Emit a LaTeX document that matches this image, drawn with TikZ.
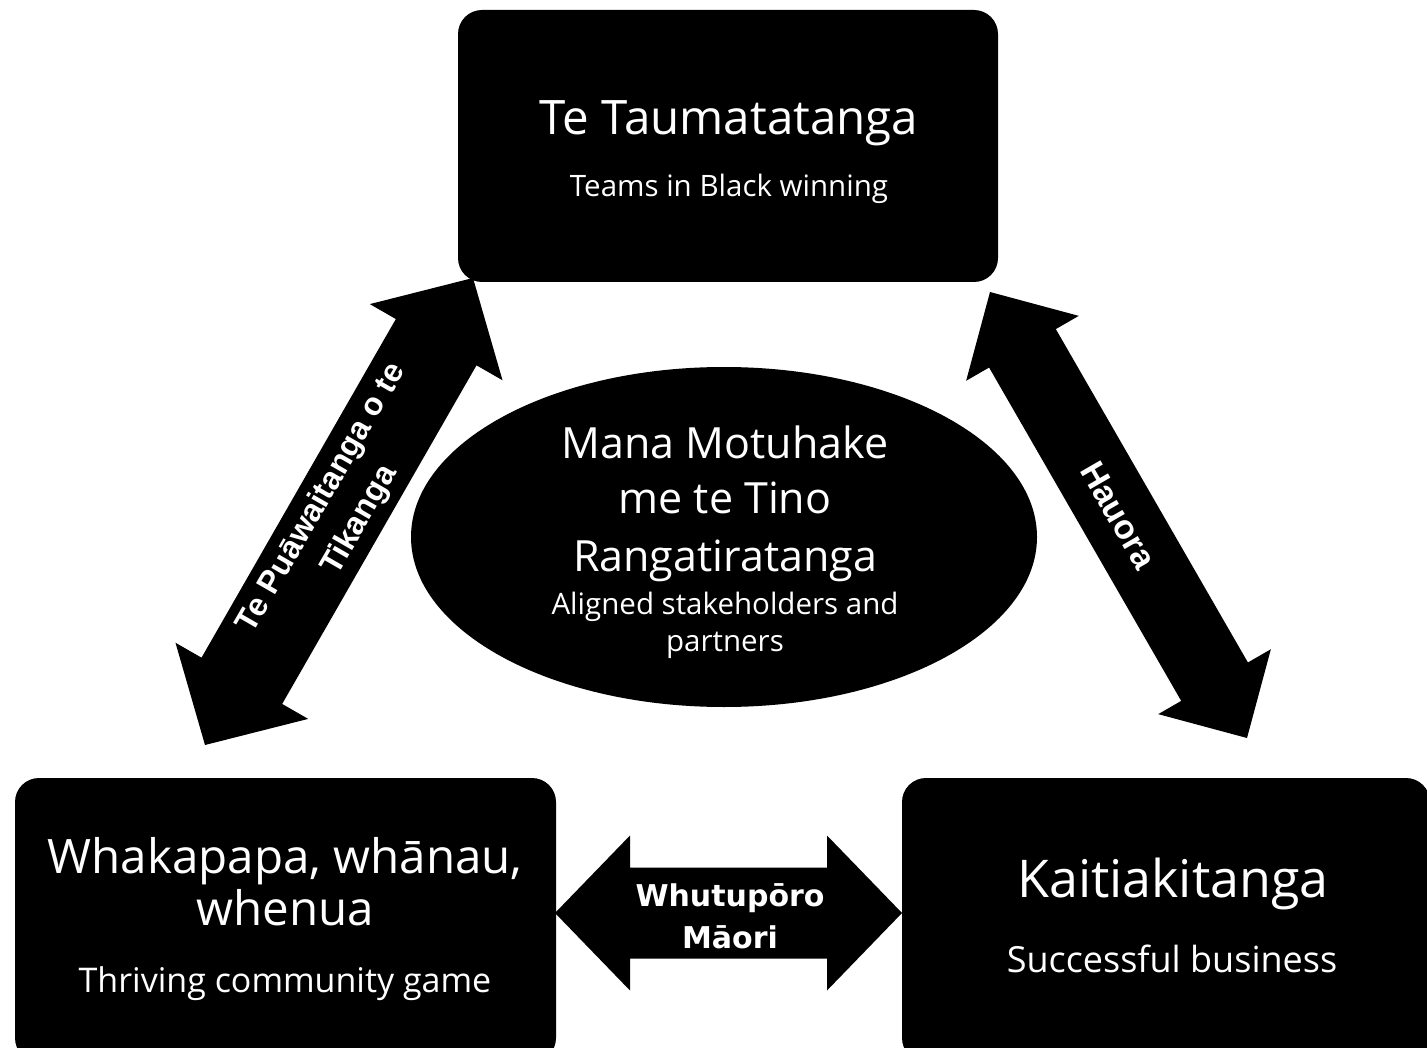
\documentclass[tikz,border=0pt]{standalone}
\usepackage{fontspec}
\setmainfont{Open Sans}
\newfontfamily\armfont{Liberation Sans}
\newfontfamily\midfont{DejaVu Sans}
\usetikzlibrary{positioning, calc, shapes.geometric}

% block arrow with a head at both ends: name, from, to, half shaft, half head, head length
\newcommand{\twowayarrow}[6]{%
  \coordinate (#1-s) at ($(#2)!#6!(#3)$);
  \coordinate (#1-e) at ($(#3)!#6!(#2)$);
  \fill (#2) -- ($(#1-s)!#5!90:(#3)$) -- ($(#1-s)!#4!90:(#3)$)
    -- ($(#1-e)!#4!-90:(#2)$) -- ($(#1-e)!#5!-90:(#2)$) -- (#3)
    -- ($(#1-e)!#5!90:(#2)$) -- ($(#1-e)!#4!90:(#2)$)
    -- ($(#1-s)!#4!-90:(#3)$) -- ($(#1-s)!#5!-90:(#3)$) -- cycle;
}

\begin{document}
\begin{tikzpicture}[x=1pt, y=-1pt]
        \tikzset{block/.style={fill=black, rounded corners=24pt, inner sep=0pt},
                 hub/.style={ellipse, fill=black, inner sep=0pt},
                 words/.style={text=white, anchor=base, inner sep=0pt},
                 armtext/.style={text=white, align=center, inner sep=0pt, font=\armfont\bfseries\fontsize{32}{44}\selectfont}}
        \useasboundingbox (0,0) rectangle (1427,1048);

        \node[block, minimum width=540pt, minimum height=272pt] (taumata) at (728,146) {};
        \node[block, minimum width=541pt, minimum height=284pt] (whakapapa) at (285.5,920) {};
        \node[block, minimum width=528pt, minimum height=284pt] (kaitiaki) at (1166,920) {};
        \node[hub, minimum width=626pt, minimum height=340pt] (mana) at (724,537) {};

        \node[words, font=\fontsize{47.5}{47.5}\selectfont] (taumata-t) at (729,135) {Te Taumatatanga};
        \node[words, font=\fontsize{29.5}{29.5}\selectfont] (taumata-s) at (729,197) {Teams in Black winning};

        \node[words, font=\fontsize{43}{43}\selectfont] (mana-t1) at (725,458) {Mana Motuhake};
        \node[words, font=\fontsize{43}{43}\selectfont] (mana-t2) at (725,513) {me te Tino};
        \node[words, font=\fontsize{43}{43}\selectfont] (mana-t3) at (725,571) {Rangatiratanga};
        \node[words, font=\fontsize{29.5}{29.5}\selectfont] (mana-s1) at (725,614) {Aligned stakeholders and};
        \node[words, font=\fontsize{29.5}{29.5}\selectfont] (mana-s2) at (725,651) {partners};

        \node[words, font=\fontsize{47.5}{47.5}\selectfont] (whakapapa-t1) at (285,873) {Whakapapa, whānau,};
        \node[words, font=\fontsize{47.5}{47.5}\selectfont] (whakapapa-t2) at (285,925) {whenua};
        \node[words, font=\fontsize{34}{34}\selectfont] (whakapapa-s) at (285,992) {Thriving community game};

        \node[words, font=\fontsize{52}{52}\selectfont] (kaitiaki-t) at (1173,897) {Kaitiakitanga};
        \node[words, font=\fontsize{36}{36}\selectfont] (kaitiaki-s) at (1172,972) {Successful business};

        % arrows between the three corners
        \coordinate (pua-a) at (205,745);
        \coordinate (pua-b) at (473,278);
        \twowayarrow{pua}{pua-a}{pua-b}{46.5pt}{76.5pt}{74pt}
        \node[armtext, rotate=60] (pua-t) at ($(pua-a)!0.5!(pua-b)+(2,-2)$) {Te Puāwaitanga o te\\Tikanga};

        \coordinate (hau-a) at (990,292);
        \coordinate (hau-b) at (1247,738);
        \twowayarrow{hau}{hau-a}{hau-b}{38.5pt}{65pt}{65pt}
        \node[armtext, rotate=-60, font=\armfont\bfseries\fontsize{34}{34}\selectfont] (hau-t) at ($(hau-a)!0.5!(hau-b)$) {Hauora};

        \coordinate (whu-a) at (555,913);
        \coordinate (whu-b) at (902,913);
        \twowayarrow{whu}{whu-a}{whu-b}{45.5pt}{77.5pt}{75pt}
        \node[text=white, align=center, inner sep=0pt, font=\midfont\bfseries\fontsize{30}{42}\selectfont] (whu-t) at (730,916) {Whutupōro\\Māori};
\end{tikzpicture}
\end{document}
